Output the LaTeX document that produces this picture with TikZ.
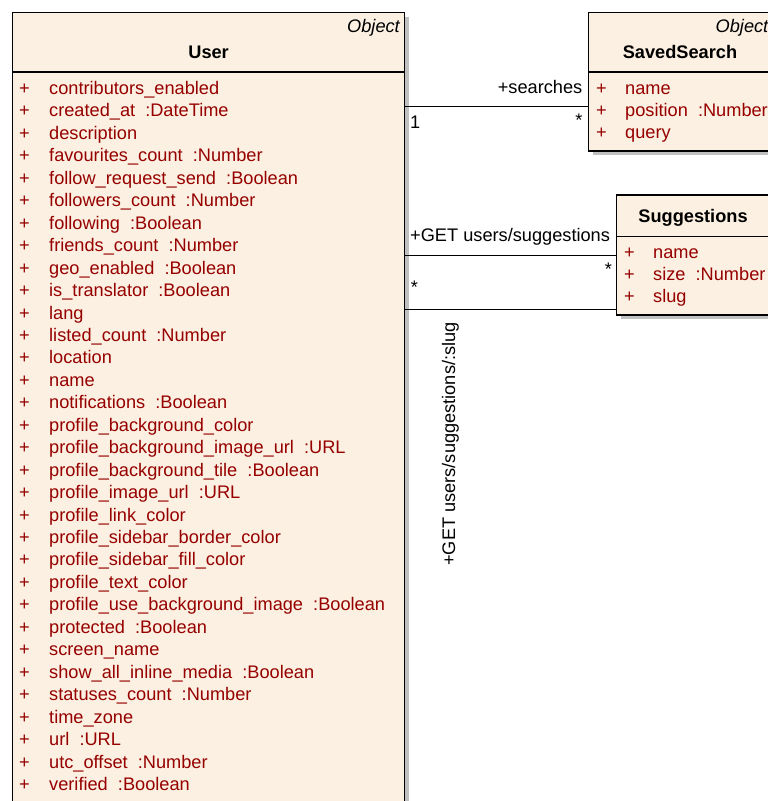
\documentclass[tikz,border=0pt]{standalone}
\usepackage{fontspec}
\setmainfont{Liberation Sans}
\definecolor{boxfill}{RGB}{251,240,225}
\definecolor{attrred}{RGB}{150,0,0}
\definecolor{shadowgray}{RGB}{192,192,192}
\begin{document}
\begin{tikzpicture}[x=1pt,y=-1pt,
  classbox/.style={draw=black, line width=1.2pt, fill=boxfill, inner sep=0pt,
    outer sep=0pt, anchor=north west},
  shadowbox/.style={fill=shadowgray, draw=none},
  sepline/.style={draw=black, line width=1.1pt},
  txt/.style={inner sep=0pt, font=\fontsize{18.2}{20}\selectfont},
  attr/.style={txt, text=attrred, anchor=base west},
  stereo/.style={txt, anchor=base east, font=\fontsize{18.2}{20}\selectfont\itshape},
  cname/.style={txt, anchor=base, font=\fontsize{18.2}{20}\selectfont\bfseries},
  assoc/.style={draw=black, line width=1pt},
  rolelabel/.style={txt, text=black}
]
\clip (0,0) rectangle (768,801);
\useasboundingbox (0,0) rectangle (768,801);

% drop shadows
\fill[shadowbox] (17,17) rectangle (409,830);
\fill[shadowbox] (593,17) rectangle (776,155);
\fill[shadowbox] (621,200) rectangle (776,319);

% class boxes
\node[classbox, minimum width=392pt, minimum height=810pt] (user) at (12.5,12.3) {};
\node[classbox, minimum width=184pt, minimum height=138.7pt] (ss) at (588.3,12.3) {};
\node[classbox, minimum width=156pt, minimum height=120pt] (sg) at (616.7,195) {};

% compartment separators
\draw[sepline] (user.west |- 0,72) -- (user.east |- 0,72);
\draw[sepline] (ss.west |- 0,72) -- (ss.east |- 0,72);
\draw[sepline] (sg.west |- 0,236.7) -- (sg.east |- 0,236.7);

% User
\node[stereo] (userst) at (400,32) {Object};
\node[cname] (username) at (208.6,58) {User};
\foreach \a [count=\i from 0] in {
  contributors\_enabled,
  {created\_at\ \ :DateTime},
  description,
  {favourites\_count\ \ :Number},
  {follow\_request\_send\ \ :Boolean},
  {followers\_count\ \ :Number},
  {following\ \ :Boolean},
  {friends\_count\ \ :Number},
  {geo\_enabled\ \ :Boolean},
  {is\_translator\ \ :Boolean},
  lang,
  {listed\_count\ \ :Number},
  location,
  name,
  {notifications\ \ :Boolean},
  profile\_background\_color,
  {profile\_background\_image\_url\ \ :URL},
  {profile\_background\_tile\ \ :Boolean},
  {profile\_image\_url\ \ :URL},
  profile\_link\_color,
  profile\_sidebar\_border\_color,
  profile\_sidebar\_fill\_color,
  profile\_text\_color,
  {profile\_use\_background\_image\ \ :Boolean},
  {protected\ \ :Boolean},
  screen\_name,
  {show\_all\_inline\_media\ \ :Boolean},
  {statuses\_count\ \ :Number},
  time\_zone,
  {url\ \ :URL},
  {utc\_offset\ \ :Number},
  {verified\ \ :Boolean}}
{
  \node[attr] (uplus\i) at (19,94.5+22.45*\i) {+};
  \node[attr] (uattr\i) at (49,94.5+22.45*\i) {\a};
}

% SavedSearch
\node[stereo] (ssst) at (768.5,32) {Object};
\node[cname] (ssname) at (680,58) {SavedSearch};
\foreach \a [count=\i from 0] in {name, {position\ \ :Number}, query}
{
  \node[attr] (splus\i) at (596,94.5+22.2*\i) {+};
  \node[attr] (sattr\i) at (625,94.5+22.2*\i) {\a};
}

% Suggestions
\node[cname] (sgname) at (693,222.5) {Suggestions};
\foreach \a [count=\i from 0] in {name, {size\ \ :Number}, slug}
{
  \node[attr] (gplus\i) at (624,258.5+22.2*\i) {+};
  \node[attr] (gattr\i) at (653,258.5+22.2*\i) {\a};
}

% associations
\draw[assoc] (user.east |- 0,106) -- (ss.west |- 0,106);
\draw[assoc] (user.east |- 0,255) -- (sg.west |- 0,255);
\draw[assoc] (user.east |- 0,309) -- (sg.west |- 0,309);

% association end labels
\node[rolelabel, anchor=base east] (lsearches) at (582.5,93.5) {+searches};
\node[rolelabel, anchor=base west] (lone) at (410,128.5) {1};
\node[rolelabel, anchor=base] (lmany1) at (579,126) {*};
\node[rolelabel, anchor=base west] (lgetsg) at (410,241.5) {+GET users/suggestions};
\node[rolelabel, anchor=base] (lmany2) at (608.5,275) {*};
\node[rolelabel, anchor=base] (lmany3) at (414.5,293) {*};
\node[rolelabel, rotate=90, anchor=base] (lgetslug) at (455,444) {+GET users/suggestions/:slug};
\end{tikzpicture}
\end{document}
